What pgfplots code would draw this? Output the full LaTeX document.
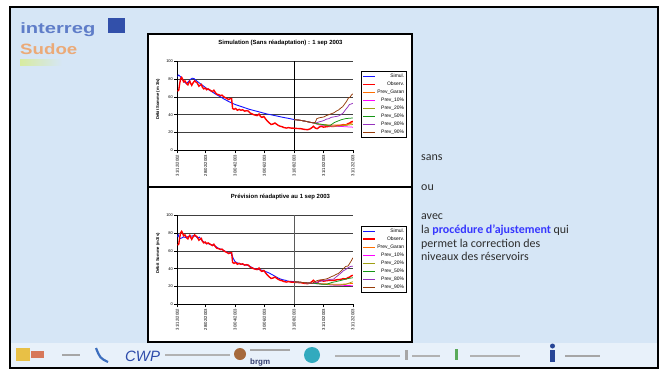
\documentclass[border=0pt]{standalone}
\usepackage{pgfplots}
\pgfplotsset{compat=1.18}
\usepackage{pgfplotstable}
\usepackage{fontspec}
\setmainfont{Liberation Sans}
\newfontfamily\slidefont{Carlito}

\definecolor{slidebg}{RGB}{214,230,246}
\definecolor{simblue}{RGB}{20,20,255}
\definecolor{obsred}{RGB}{255,0,0}
\definecolor{garan}{RGB}{255,110,0}
\definecolor{p10}{RGB}{255,0,255}
\definecolor{p20}{RGB}{160,160,20}
\definecolor{p50}{RGB}{20,150,20}
\definecolor{p80}{RGB}{150,50,190}
\definecolor{p90}{RGB}{150,60,10}
\definecolor{txtgray}{RGB}{45,45,45}
\definecolor{kwblue}{RGB}{55,55,255}
\definecolor{logoblue}{RGB}{95,125,200}
\definecolor{logoorange}{RGB}{235,170,120}
\definecolor{euflag}{RGB}{50,80,170}
\definecolor{logogreen}{RGB}{215,235,160}
\definecolor{spainyellow}{RGB}{232,192,70}
\definecolor{spainred}{RGB}{215,120,90}
\definecolor{swoosh}{RGB}{60,110,190}
\definecolor{cwpblue}{RGB}{45,75,170}
\definecolor{brgmbrown}{RGB}{165,105,60}
\definecolor{brgmblue}{RGB}{50,60,110}
\definecolor{teal}{RGB}{50,170,190}
\definecolor{leafgreen}{RGB}{90,170,90}
\definecolor{dropblue}{RGB}{40,70,150}
\definecolor{gridgray}{RGB}{64,64,64}
\definecolor{bordergray}{RGB}{128,128,128}
\definecolor{cutgray}{RGB}{90,90,90}

% observed daily discharge (day 0 = 31/12/2002)
\pgfplotstableread{
d v
0 66.5
3 67.5
5 75
7 80.5
9 82
11 80
13 77
16 78
19 75
22 73.5
24 76
26 77.5
28 75
30 73
33 76
36 78
38 77
41 76
43 74
45 72
47 73
50 74
52 71
55 69
58 70
61 68
64 69
67 68
70 67
73 66
76 67.5
79 65
82 63
86 62.5
90 61.5
93 62
97 60
100 59
104 58
107 57
110 58
113 58
115 47
118 46
121 47
125 45
129 46
132 45
136 45.5
140 44
144 44.5
148 44
151 42
155 41
159 40
162 39.5
166 39
170 40.8
173 38
176 37
180 38
184 35
187 33
191 31
195 29
199 29.5
203 30.7
206 29.5
210 28
214 27
218 26.5
222 25.5
227 25
231 25.5
236 25
243 24.8
250 24.5
257 24.3
264 23.5
271 23.2
276 24
280 25.5
283 27
287 25
291 24.3
295 26
299 27
304 26
310 26.5
318 27
325 26.8
333 27.7
340 28
345 28.8
351 28.5
355 30
359 30.7
362 32
365 32.6
}\obs

% simulation without readaptation
\pgfplotstableread{
d v
0 83
3 84.5
6 83
10 80
14 77
19 75
23 77
27 79.5
31 81
35 80.5
40 78
45 76
50 74
55 72
60 70
64 68.5
70 66.5
80 63
90 60
99 57
110 54
120 51.5
134 49
150 46
168 43.5
185 41
203 39
220 37
235 35.5
243 34.5
}\simA

% simulation with readaptation
\pgfplotstableread{
d v
0 75.7
2 78
5 73.8
9 74.5
13 75.7
18 75
22 76
28 76.5
33 77
38 76.5
42 74.6
46 75.5
50 72.5
55 70
60 68.5
65 68
70 67
75 66.5
80 65
85 63
90 62
95 61
100 59.5
105 58
110 57.5
113 57
116 52
120 48
125 46.5
130 45.5
135 45
140 44.3
145 44
150 43
155 41.5
160 40
165 39.5
170 39
175 38.5
180 37.7
185 36.5
190 35.4
195 34
200 32.5
205 31
210 29.5
215 28.3
220 27.5
225 27
230 26
235 25.8
243 25.4
}\simB

% forecasts from 1 sep 2003, without readaptation
\pgfplotstableread{
d v
243 34.5
252 34
260 33.3
268 32.5
276 31.5
283 30.8
295 29
310 28.6
325 28.3
340 28.5
355 29
360 30
365 31
}\gA
\pgfplotstableread{
d v
243 34.5
252 34
260 33.3
268 32.5
276 31.5
283 30.8
295 28.5
310 27.7
325 27
340 26.8
355 26.3
365 26
}\tenA
\pgfplotstableread{
d v
243 34.5
252 34
260 33.3
268 32.5
276 31.5
283 30.8
295 29
305 28.3
315 27.5
325 27
335 27.3
345 27.8
355 28.3
365 29
}\twentyA
\pgfplotstableread{
d v
243 34.5
252 34
260 33.3
268 32.5
276 31.5
283 30.8
290 30
297 29.5
305 28.8
312 28.3
318 28
322 29.5
326 31
330 32
336 33.3
342 34.5
350 35.6
358 36
365 36.3
}\fiftyA
\pgfplotstableread{
d v
243 34.5
252 34
260 33.3
268 32.5
276 31.5
283 30.8
290 31
295 32
300 32.6
305 33.5
310 35
315 35.5
320 37
325 37.5
330 38
335 38.5
340 40
345 42
350 45.7
355 49
358 51.5
362 52
365 53
}\eightyA
\pgfplotstableread{
d v
243 34.5
252 34
260 33.3
268 32.5
276 31.5
283 30.8
287 31.5
290 35.5
295 36.5
300 37
305 37.5
310 39
315 40
320 41
325 42
328 43
332 44.5
336 45.5
340 47.5
344 49
348 52
352 55
356 58.8
359 59.5
362 62
365 63.5
}\ninetyA

% forecasts from 1 sep 2003, readaptive
\pgfplotstableread{
d v
243 25.4
255 24.8
265 24.3
275 23.8
280 23.5
295 23.3
310 23
325 22.6
340 22.5
355 23
365 23.5
}\gB
\pgfplotstableread{
d v
243 25.4
255 24.8
265 24.3
275 23.8
280 23.5
295 23
310 22.2
320 21.6
340 21.4
355 21.1
365 20.9
}\tenB
\pgfplotstableread{
d v
243 25.4
255 24.8
265 24.3
275 23.8
280 23.5
295 23
310 22.4
325 21.8
340 21.8
350 22.4
358 24
365 25.4
}\twentyB
\pgfplotstableread{
d v
243 25.4
255 24.8
265 24.3
275 23.8
280 23.5
290 23.3
300 22.6
310 22.4
316 23.5
322 24.6
330 25.5
340 26.8
350 28.3
358 29.2
365 29.8
}\fiftyB
\pgfplotstableread{
d v
243 25.4
255 24.8
265 24.3
275 23.8
280 23.5
290 24.5
295 25.4
302 26.5
310 27.2
318 28
325 28.3
330 30.5
335 32.8
340 35
345 37.5
350 39
355 41
360 42.5
365 42.9
}\eightyB
\pgfplotstableread{
d v
243 25.4
255 24.8
265 24.3
275 23.8
280 23.5
285 25
290 26.5
295 27.2
300 27.6
305 28
310 28.5
315 29.5
320 31
325 32
330 33.5
335 34.7
340 37
346 40.3
350 42.5
355 43
358 45.5
362 49
365 52.2
}\ninetyB

% series styles
\pgfplotsset{
  simstyle/.style={color=simblue, draw=simblue, line width=0.9bp},
  obsstyle/.style={color=obsred, draw=obsred, line width=1.4bp},
  prevstyle/.style={color=#1, draw=#1, line width=0.75bp},
}

\pgfplotsset{flowaxis/.style={
  scale only axis, width=175.5bp, height=89bp,
  xmin=0, xmax=365, ymin=0, ymax=100,
  xtick={0,59,120,181,243,304,365},
  xticklabels={31/12/2002,28/02/2003,30/04/2003,30/06/2003,31/08/2003,31/10/2003,31/12/2003},
  ytick={0,20,40,60,80,100},
  axis x line*=bottom, axis y line*=left,
  tick align=outside, major tick length=3bp,
  ymajorgrids, major grid style={gridgray, line width=0.7bp},
  axis line style={black, line width=0.7bp},
  tick style={black, line width=0.5bp},
  xticklabel style={rotate=90, anchor=east, font=\fontsize{4.3}{5}\selectfont, inner sep=1.2bp},
  yticklabel style={font=\fontsize{4}{5}\selectfont, inner sep=1.2bp},
  /pgf/number format/assume math mode=true,
  ylabel style={font=\bfseries\fontsize{4.2}{5}\selectfont, at={(axis description cs:-0.11,0.573)}, anchor=center},
  no markers,
  legend style={anchor=north west, draw=black, line width=0.4bp,
    font=\fontsize{5}{6}\selectfont, inner sep=1bp, row sep=0.4bp,
    nodes={text height=3.8bp, text depth=1.2bp, inner sep=1.3bp}},
  legend cell align=right,
  legend image code/.code={\begin{scope}[##1]\draw (0bp,0bp) -- (12bp,0bp);\end{scope}},
}}

\begin{document}
\begin{tikzpicture}[x=1bp,y=1bp]
\useasboundingbox (0,0) rectangle (666,370);
\fill[white] (0,0) rectangle (666,370);
% slide frame and background
\fill[slidebg] (10,2) rectangle (658,363);
\draw[black, line width=1.6bp] (10,2) rectangle (658,363);

% header logo
\node[anchor=base west, font=\bfseries\fontsize{15}{15}\selectfont, text=logoblue, xscale=1.35, inner sep=0] at (20,337) {interreg};
\fill[euflag] (108,337) rectangle (125,352);
\node[anchor=base west, font=\bfseries\fontsize{15}{15}\selectfont, text=logoorange, xscale=1.25, inner sep=0] at (20,316) {Sudoe};
\fill[left color=logogreen, right color=slidebg] (20,305) rectangle (62,311);

% footer logos
\fill[white, opacity=0.45] (11,3) rectangle (657,27);
\fill[spainyellow] (16,9) rectangle (30,22);
\fill[spainred] (31,12) rectangle (44,19);
\fill[black!35] (62,14) rectangle (80,16);
\draw[swoosh, line width=2.2bp] (96,22) .. controls (100,12) .. (108,8);
\node[anchor=base west, font=\itshape\fontsize{15}{15}\selectfont, text=cwpblue, inner sep=0] at (125,9) {CWP};
\fill[black!30] (165,14) rectangle (230,16);
\fill[brgmbrown] (240,16) circle (6);
\fill[black!35] (250,19) rectangle (290,21);
\node[anchor=base west, font=\bfseries\fontsize{8}{8}\selectfont, text=brgmblue, inner sep=0] at (250,6) {brgm};
\fill[teal] (312,15) circle (8);
\fill[black!30] (335,13) rectangle (400,15);
\fill[black!35] (405,10) rectangle (408,20);
\fill[black!30] (412,13) rectangle (440,15);
\fill[leafgreen] (455,10) rectangle (458,21);
\fill[black!30] (470,13) rectangle (520,15);
\fill[dropblue] (550,8) rectangle (555,20);
\fill[dropblue] (552.5,24) circle (2.5);
\fill[black!35] (565,13) rectangle (600,15);

% chart frames
\filldraw[fill=white, draw=black, line width=1.3bp] (148,183) rectangle (412,336);
\filldraw[fill=white, draw=black, line width=1.3bp] (148,28) rectangle (412,183);

% slide text
\begin{scope}[every node/.style={anchor=base west, inner sep=0, font=\slidefont\fontsize{12}{14}\selectfont, text=txtgray}]
\node at (421,210) {sans};
\node at (421,180) {ou};
\node at (421,151) {avec};
\node at (421,137) {la {\bfseries\color{kwblue}procédure d’ajustement} qui};
\node at (421,123) {permet la correction des};
\node at (421,109.5) {niveaux des réservoirs};
\end{scope}

% titles
\node[font=\bfseries\fontsize{6}{7}\selectfont] at (280.5,327) {Simulation (Sans réadaptation) : 1 sep 2003};
\node[font=\bfseries\fontsize{6}{7}\selectfont] at (280.5,173) {Prévision réadaptive au 1 sep 2003};

% upper chart
\begin{axis}[flowaxis, at={(177.3bp,219.7bp)}, anchor=south west, ylabel={Débit Somme (m 3/s)},
  legend style={at={(1.049,0.888)}}]
\draw[black, line width=0.8bp] (axis cs:243,0) -- (axis cs:243,100);
\draw[bordergray, line width=0.6bp] (rel axis cs:1,0) -- (rel axis cs:1,1);
\addplot[simstyle] table[x=d,y=v] {\simA};
\addlegendentry{Simul.}
\addplot[obsstyle] table[x=d,y=v] {\obs};
\addlegendentry{Observ.}
\addplot[prevstyle=garan] table[x=d,y=v] {\gA};
\addlegendentry{Prev\_Garan}
\addplot[prevstyle=p10] table[x=d,y=v] {\tenA};
\addlegendentry{Prev\_10\%}
\addplot[prevstyle=p20] table[x=d,y=v] {\twentyA};
\addlegendentry{Prev\_20\%}
\addplot[prevstyle=p50] table[x=d,y=v] {\fiftyA};
\addlegendentry{Prev\_50\%}
\addplot[prevstyle=p80] table[x=d,y=v] {\eightyA};
\addlegendentry{Prev\_80\%}
\addplot[prevstyle=p90] table[x=d,y=v] {\ninetyA};
\addlegendentry{Prev\_90\%}
\end{axis}

% lower chart
\begin{axis}[flowaxis, at={(177.3bp,65.7bp)}, anchor=south west, ylabel={Débit Somme (m3/s)},
  legend style={at={(1.049,0.880)}}]
\draw[cutgray, line width=0.8bp] (axis cs:243,0) -- (axis cs:243,100);
\draw[bordergray, line width=0.6bp] (rel axis cs:1,0) -- (rel axis cs:1,1);
\addplot[simstyle] table[x=d,y=v] {\simB};
\addlegendentry{Simul.}
\addplot[obsstyle] table[x=d,y=v] {\obs};
\addlegendentry{Observ.}
\addplot[prevstyle=garan] table[x=d,y=v] {\gB};
\addlegendentry{Prev\_Garan}
\addplot[prevstyle=p10] table[x=d,y=v] {\tenB};
\addlegendentry{Prev\_10\%}
\addplot[prevstyle=p20] table[x=d,y=v] {\twentyB};
\addlegendentry{Prev\_20\%}
\addplot[prevstyle=p50] table[x=d,y=v] {\fiftyB};
\addlegendentry{Prev\_50\%}
\addplot[prevstyle=p80] table[x=d,y=v] {\eightyB};
\addlegendentry{Prev\_80\%}
\addplot[prevstyle=p90] table[x=d,y=v] {\ninetyB};
\addlegendentry{Prev\_90\%}
\end{axis}
\end{tikzpicture}
\end{document}
